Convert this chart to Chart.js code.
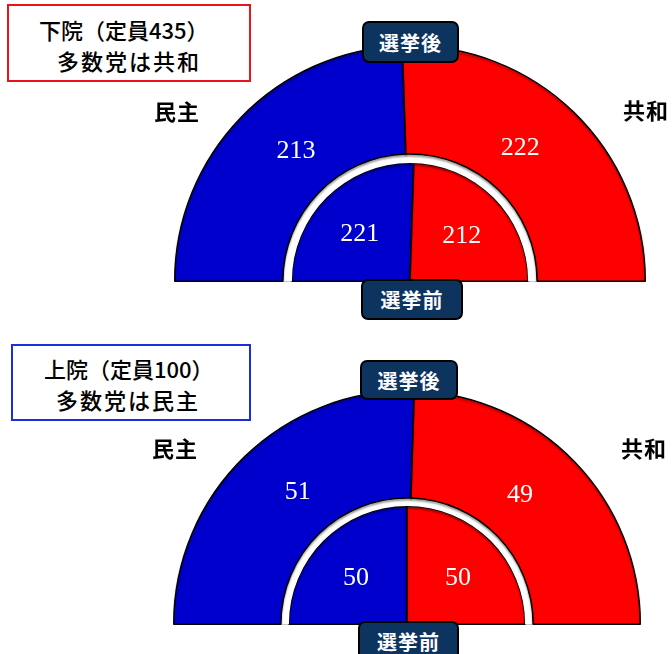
<!DOCTYPE html>
<html>
<head>
<meta charset="utf-8">
<script src="https://cdn.jsdelivr.net/npm/chart.js@4.4.1/dist/chart.umd.min.js"></script>
<style>
  body { margin: 0; background: #fff; }
  #page { position: relative; width: 672px; height: 654px; overflow: hidden; font-family: "Noto Sans CJK JP", sans-serif; }
  canvas { position: absolute; }
  .titleBox { position: absolute; box-sizing: border-box; background: #fff; }
  .line { position: absolute; font-size: 22px; font-weight: 500; color: #000; white-space: nowrap; line-height: 1; }
  .party { position: absolute; font-size: 22px; font-weight: 700; letter-spacing: 1px; line-height: 1; }
  .tag { position: absolute; box-sizing: border-box; background: #0d335f; border: 2px solid #000; border-radius: 7px;
         color: #fff; font-weight: 700; font-size: 20px; letter-spacing: 1px; display: flex; align-items: center; justify-content: center; z-index: 2; }
</style>
</head>
<body>
<div id="page">
  <canvas id="houseChart" width="472" height="237" style="left:174px;top:45px"></canvas>
  <canvas id="senateChart" width="468" height="235" style="left:173px;top:390px"></canvas>

  <div class="titleBox" style="left:7px;top:4px;width:244px;height:78px;border:2px solid #e8141a"></div>
  <div class="line" style="left:39px;top:18px">下院（定員435）</div>
  <div class="line" style="left:57px;top:49px;letter-spacing:2px">多数党は共和</div>

  <div class="titleBox" style="left:11px;top:344px;width:240px;height:77px;border:2px solid #1a2ee0"></div>
  <div class="line" style="left:44px;top:357px">上院（定員100）</div>
  <div class="line" style="left:56px;top:388px;letter-spacing:2px">多数党は民主</div>

  <div class="party" style="left:154px;top:99px">民主</div>
  <div class="party" style="left:623px;top:98px">共和</div>
  <div class="party" style="left:152px;top:436px">民主</div>
  <div class="party" style="left:621px;top:436px">共和</div>

  <div class="tag" style="left:362px;top:21px;width:97px;height:42px">選挙後</div>
  <div class="tag" style="left:361px;top:279px;width:102px;height:41px">選挙前</div>
  <div class="tag" style="left:360px;top:360px;width:98px;height:40px">選挙後</div>
  <div class="tag" style="left:358px;top:621px;width:101px;height:41px">選挙前</div>
</div>

<script>
const parties = ['民主', '共和'];
const houseAfter = [213, 222];
const houseBefore = [221, 212];
const senateAfter = [51, 49];
const senateBefore = [50, 50];
const partyColors = ['#0000cc', '#ff0000'];

// shadow under the arcs + white seat counts on top
const seatLabels = {
    id: 'seatLabels',
    beforeDatasetsDraw(chart) {
        const ctx = chart.ctx;
        ctx.save();
        ctx.shadowColor = 'rgba(0,0,0,0.3)';
        ctx.shadowBlur = 2;
        ctx.shadowOffsetY = 2;
    },
    afterDatasetsDraw(chart) {
        const ctx = chart.ctx;
        ctx.restore();
        ctx.save();
        ctx.fillStyle = '#fff';
        ctx.font = '26px "Liberation Serif", serif';
        ctx.textAlign = 'center';
        ctx.textBaseline = 'middle';
        chart.data.datasets.forEach((ds, i) => {
            if (!ds.showValues) return;
            chart.getDatasetMeta(i).data.forEach((arc, j) => {
                const p = arc.getProps(['x', 'y', 'startAngle', 'endAngle', 'innerRadius', 'outerRadius']);
                let a = (p.startAngle + p.endAngle) / 2;
                a = a + (-Math.PI / 2 - a) * ds.pull;
                const r = p.innerRadius + (p.outerRadius - p.innerRadius) * ds.labelPos;
                ctx.fillText(String(ds.data[j]), p.x + r * Math.cos(a), p.y + r * Math.sin(a));
            });
        });
        ctx.restore();
    }
};

function makeChart(id, after, before, weights) {
    return new Chart(document.getElementById(id), {
        type: 'doughnut',
        data: {
            labels: parties,
            datasets: [{
                label: '選挙後',
                data: after,
                backgroundColor: partyColors,
                borderColor: '#000',
                borderWidth: 1.5,
                weight: weights[0],
                showValues: true,
                labelPos: 0.42,
                pull: 0.1
            }, {
                label: '',
                data: [1],
                backgroundColor: '#fff',
                borderWidth: 0,
                weight: weights[1]
            }, {
                label: '選挙前',
                data: before,
                backgroundColor: partyColors,
                borderColor: '#000',
                borderWidth: 1.5,
                weight: weights[2],
                showValues: true,
                labelPos: 0.58,
                pull: -0.07
            }]
        },
        options: {
            responsive: false,
            animation: false,
            devicePixelRatio: 1,
            rotation: -90,
            circumference: 180,
            cutout: 0,
            layout: { padding: 0 },
            plugins: {
                legend: { display: false },
                tooltip: { enabled: false }
            }
        },
        plugins: [seatLabels]
    });
}

let houseChart = makeChart('houseChart', houseAfter, houseBefore, [108, 9, 118]);
let senateChart = makeChart('senateChart', senateAfter, senateBefore, [107, 8, 118]);
</script>
</body>
</html>
